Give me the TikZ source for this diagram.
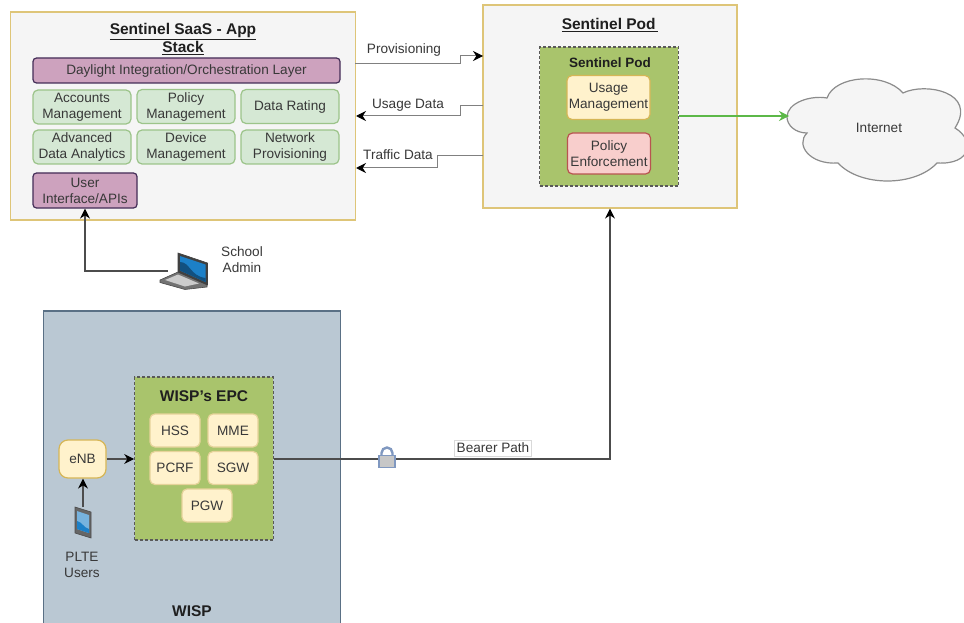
\documentclass[tikz,border=0pt]{standalone}
\usepackage{fontspec}
\setmainfont{Liberation Sans}
\usetikzlibrary{arrows.meta,calc}

\definecolor{sandline}{HTML}{D6B656}
\definecolor{panelfill}{HTML}{F5F5F5}
\definecolor{purplefill}{HTML}{CDA2BE}
\definecolor{purpleline}{HTML}{432D57}
\definecolor{greenfill}{HTML}{D5E8D4}
\definecolor{greenline}{HTML}{9CC48A}
\definecolor{podgreen}{HTML}{A9C46C}
\definecolor{yellowfill}{HTML}{FFF2CC}
\definecolor{redfill}{HTML}{F8CECC}
\definecolor{redline}{HTML}{B85450}
\definecolor{wispfill}{HTML}{BAC8D3}
\definecolor{wispline}{HTML}{5A7085}
\definecolor{screenblue}{HTML}{1C80C8}
\definecolor{screendark}{HTML}{12507F}
\definecolor{lockblue}{HTML}{8098C0}
\definecolor{linkgreen}{HTML}{5CB848}

\tikzset{
  every node/.style={font=\fontsize{13.6}{16}\selectfont, text=black!78, align=center, inner sep=0pt},
  panel/.style={draw=sandline!80, fill=panelfill, line width=1.2pt},
  purplebox/.style={draw=purpleline, fill=purplefill, line width=1.2pt, rounded corners=3.5pt},
  greenbox/.style={draw=greenline, fill=greenfill, line width=1.2pt, rounded corners=5pt, minimum width=98pt, minimum height=34pt},
  yellowbox/.style={draw=sandline, fill=yellowfill, line width=1.2pt, rounded corners=5pt},
  corebox/.style={yellowbox, draw=sandline!60, minimum width=50pt, minimum height=33pt},
  dashbox/.style={draw=black!65, fill=podgreen, densely dashed, line width=1.2pt},
  heading/.style={font=\fontsize{15.5}{18}\selectfont\bfseries, text=black!88},
  flow/.style={draw=black!70, line width=1.2pt, -{Stealth[length=10pt,width=10pt,color=black]}},
  datalink/.style={flow, draw=black!50, line width=1pt},
}

\begin{document}
\begin{tikzpicture}[x=1pt, y=-1pt]

\clip (0,0) rectangle (964,623);
\fill [white] (0,0) rectangle (964,623);

\node [panel, minimum width=345pt, minimum height=208pt] (saas) at (183,116) {};
\node [panel, minimum width=254pt, minimum height=203pt] (pod) at (610,106.5) {};
\node [draw=wispline, fill=wispfill, line width=1.2pt, minimum width=297pt, minimum height=320pt] (wisp) at (192,471) {};

\node [heading] (saastitle) at (183,39) {\underline{Sentinel SaaS - App}\\\underline{Stack}};
\node [purplebox, minimum width=307pt, minimum height=25pt] (daylight) at (186.5,70.5) {Daylight Integration/Orchestration Layer};
\node [greenbox] (accounts) at (82,107) {Accounts\\Management};
\node [greenbox] (policy) at (186,106.5) {Policy\\Management};
\node [greenbox] (rating) at (290,106.5) {Data Rating};
\node [greenbox] (analytics) at (82,147) {Advanced\\Data Analytics};
\node [greenbox] (device) at (186,147) {Device\\Management};
\node [greenbox] (network) at (290,147) {Network\\Provisioning};
\node [purplebox, minimum width=104pt, minimum height=35pt] (ui) at (85,190.5) {User\\Interface/APIs};

\node [heading] (podtitle) at (610,25) {\underline{Sentinel Pod\,}};
\node [dashbox, minimum width=138.5pt, minimum height=139pt] (podinner) at (609,116.5) {};
\node [font=\fontsize{13.5}{16}\selectfont\bfseries, text=black!88] (podhead) at (610,63) {Sentinel Pod};
\node [yellowbox, minimum width=83pt, minimum height=44pt] (usage) at (608.5,97.5) {Usage\\Management};
\node [draw=redline, fill=redfill, line width=1.2pt, rounded corners=5pt, minimum width=83pt, minimum height=41pt] (enforce) at (609,153.5) {Policy\\Enforcement};

% cloud
\filldraw [draw=black!45, fill=panelfill, line width=1.2pt] (787,117)
  .. controls (787,103) and (810,95) .. (827,98)
  .. controls (835,75) and (885,72) .. (903,93)
  .. controls (925,82) and (978,92) .. (955,128)
  .. controls (975,140) and (972,165) .. (937,163)
  .. controls (915,187) and (860,187) .. (838,163)
  .. controls (810,165) and (795,145) .. (807,133)
  .. controls (795,133) and (787,125) .. (787,117);
\node (internet) at (879,128) {Internet};
\coordinate (cloudin) at (789,116);

\node [dashbox, minimum width=138.5pt, minimum height=163pt] (epc) at (204,458.5) {};
\node [heading] (epctitle) at (204,396) {WISP's EPC};
\node [corebox] (hss) at (175,430.5) {HSS};
\node [corebox] (mme) at (233,430.5) {MME};
\node [corebox] (pcrf) at (175,468) {PCRF};
\node [corebox] (sgw) at (233,468) {SGW};
\node [corebox] (pgw) at (207,505.5) {PGW};
\node [yellowbox, rounded corners=9pt, minimum width=47pt, minimum height=38pt] (enb) at (82.5,459) {eNB};
\node (users) at (82,564.5) {PLTE\\Users};
\node [heading] (wisptitle) at (192,611) {WISP};
\node (admin) at (242,260) {School\\Admin};

% laptop
\filldraw [draw=black!70, fill=black!55, line width=0.6pt] (160,280) -- (178,272) -- (207,284) -- (207,287) -- (185,289.5) -- (160,282.5) -- cycle;
\fill [black!20] (165,280) -- (178,274.5) -- (199,283.5) -- (185,286.5) -- cycle;
\filldraw [draw=black!75, fill=black!75, line width=0.6pt] (178,253) -- (207.5,263) -- (207.5,285) -- (178,272) -- cycle;
\fill [screenblue] (180,256) -- (205.5,264.5) -- (205.5,282) -- (180,270.5) -- cycle;
\fill [screendark] (180,262) .. controls (190,262) and (190,276) .. (205.5,278) -- (205.5,282) -- (180,270.5) -- cycle;
\coordinate (laptop) at (168,271);

% phone
\filldraw [draw=black!70, fill=black!60, line width=0.6pt] (75,507) -- (91,512) -- (91,538) -- (75,533) -- cycle;
\fill [screenblue!60] (77,511) -- (89,515) -- (89,533) -- (77,529) -- cycle;
\fill [screenblue] (77,521) .. controls (82,522) and (84,528) .. (89,529) -- (89,533) -- (77,529) -- cycle;
\coordinate (phone) at (83,507);

\coordinate (provout) at (355,64);
\coordinate (provin) at (483,56);
\coordinate (usageout) at (483,106);
\coordinate (usagein) at (356,116);
\coordinate (trafficout) at (483,156);
\coordinate (trafficin) at (356,168);

\draw [datalink] (provout) -- (460,64) -- (460,56) -- (provin); %saas-pod
\draw [datalink] (usageout) -- (460,106) -- (460,116) -- (usagein); %pod-saas
\draw [datalink] (trafficout) -- (437,156) -- (437,168) -- (trafficin); %pod-saas
\draw [flow] (laptop) -| (ui.south); %laptop-ui
\draw [flow] (phone) -- (phone |- enb.south); %phone-enb
\draw [flow] (enb.east) -- (enb.east -| epc.west); %enb-epc
\draw [draw=linkgreen, line width=1.2pt, -{Stealth[length=10pt,width=10pt,color=linkgreen]}] (podinner.east |- cloudin) -- (cloudin); %pod-internet
\draw [flow] (epc.east |- enb.east) -| (pod.south); %epc-pod

% lock
\draw [lockblue, line width=2.4pt] (381.5,456) -- (381.5,453) arc (180:360:5.5) -- (392.5,456);
\node [draw=lockblue, fill=black!22, line width=1.2pt, minimum width=16pt, minimum height=12pt] (lock) at (387,461.5) {};

\node (provlabel) at (404,50) {Provisioning};
\node (usagelabel) at (408,105) {Usage Data};
\node (trafficlabel) at (398,155) {Traffic Data};
\node [draw=black!15, fill=white, line width=0.6pt, minimum width=77pt, minimum height=16pt] (bearer) at (493,448) {Bearer Path};

\end{tikzpicture}
\end{document}
